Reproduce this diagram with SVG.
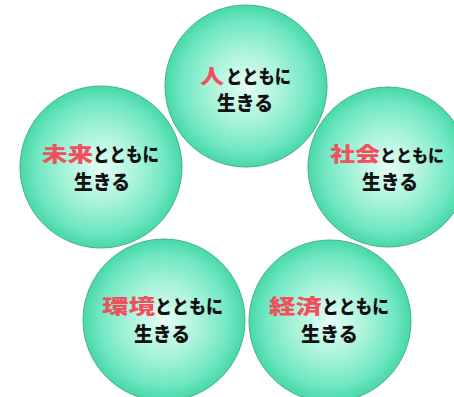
<svg xmlns="http://www.w3.org/2000/svg" width="454" height="397" viewBox="0 0 454 397">
<defs>
<radialGradient id="ball" cx="50%" cy="50%" r="50%">
<stop offset="0" stop-color="#e6fdf5"/>
<stop offset="0.45" stop-color="#a8f3da"/>
<stop offset="0.8" stop-color="#70e7c2"/>
<stop offset="1" stop-color="#48d8aa"/>
</radialGradient>
</defs>
<style>
.c{fill:url(#ball);stroke:#4aae8e;stroke-width:1}
.t{font-family:"Noto Sans CJK JP","Noto Sans CJK SC",sans-serif;font-weight:900;font-size:20px;fill:#111}
.h{font-size:19px}
.r{fill:#f0505c}
</style>
<rect width="454" height="397" fill="#ffffff"/>
<g id="connectors"/>
<g id="node-hito">
<circle class="c" cx="246" cy="86" r="81"/>
<text class="t r" x="200" y="84" textLength="24" lengthAdjust="spacingAndGlyphs">人</text>
<text class="t h" x="226" y="84" textLength="65" lengthAdjust="spacingAndGlyphs">とともに</text>
<text class="t" x="217" y="111" textLength="56" lengthAdjust="spacingAndGlyphs">生きる</text>
</g>
<g id="node-mirai">
<circle class="c" cx="101" cy="167" r="81"/>
<text class="t r" x="42" y="162" textLength="51" lengthAdjust="spacingAndGlyphs">未来</text>
<text class="t h" x="93" y="162" textLength="66" lengthAdjust="spacingAndGlyphs">とともに</text>
<text class="t" x="74" y="190" textLength="56" lengthAdjust="spacingAndGlyphs">生きる</text>
</g>
<g id="node-shakai">
<circle class="c" cx="388" cy="167" r="80"/>
<text class="t r" x="330" y="162" textLength="50" lengthAdjust="spacingAndGlyphs">社会</text>
<text class="t h" x="380" y="162" textLength="64" lengthAdjust="spacingAndGlyphs" style="font-size:17px">とともに</text>
<text class="t" x="362" y="190" textLength="56" lengthAdjust="spacingAndGlyphs">生きる</text>
</g>
<g id="node-kankyo">
<circle class="c" cx="164" cy="320" r="81"/>
<text class="t r" x="102" y="314" textLength="53" lengthAdjust="spacingAndGlyphs">環境</text>
<text class="t h" x="155" y="314" textLength="68" lengthAdjust="spacingAndGlyphs">とともに</text>
<text class="t" x="134" y="342" textLength="56" lengthAdjust="spacingAndGlyphs">生きる</text>
</g>
<g id="node-keizai">
<circle class="c" cx="330" cy="321" r="81"/>
<text class="t r" x="269" y="314" textLength="53" lengthAdjust="spacingAndGlyphs">経済</text>
<text class="t h" x="322" y="314" textLength="67" lengthAdjust="spacingAndGlyphs">とともに</text>
<text class="t" x="301" y="342" textLength="57" lengthAdjust="spacingAndGlyphs">生きる</text>
</g>
</svg>
